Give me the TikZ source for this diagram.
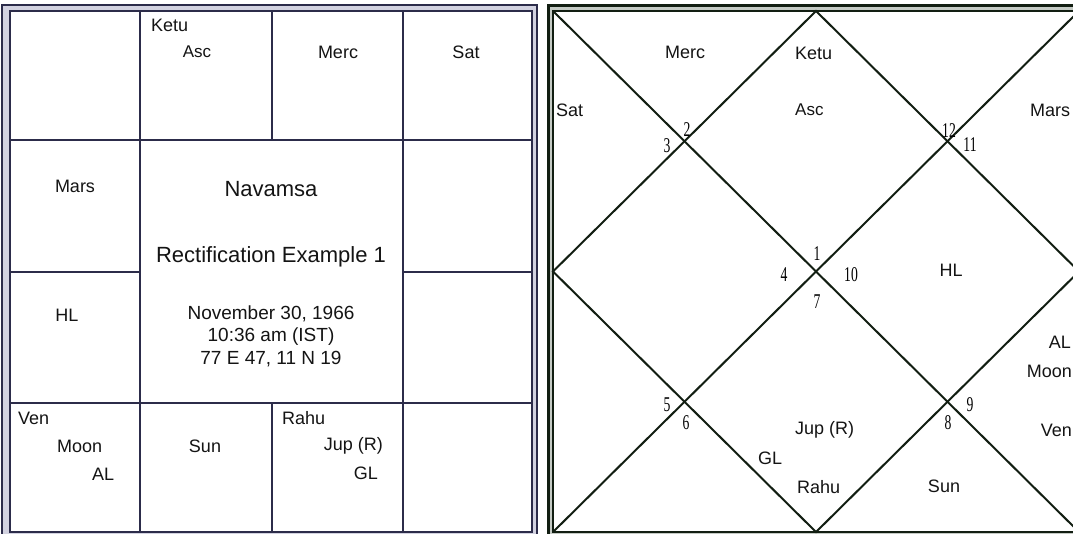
\documentclass[tikz,border=0pt]{standalone}
\usepackage{fontspec}
\setmainfont{Liberation Sans}
\newfontfamily\numfont[FakeStretch=0.65]{Liberation Serif}
\definecolor{navy}{HTML}{2C2C4A}
\definecolor{lav}{HTML}{D2D2E0}
\definecolor{dgreen}{HTML}{121E12}
\definecolor{lgray}{HTML}{C4CAC4}
\begin{document}
\begin{tikzpicture}[x=1pt,y=-1pt,
  lbl/.style={inner sep=0pt, text=black!92, font=\fontsize{18}{20}\selectfont},
  small/.style={inner sep=0pt, text=black!92, font=\fontsize{17}{19}\selectfont},
  title/.style={inner sep=0pt, text=black!92, font=\fontsize{22}{24}\selectfont},
  info/.style={inner sep=0pt, text=black!92, font=\fontsize{19}{22.5}\selectfont, align=center},
  num/.style={inner sep=0pt, text=black, font=\numfont\fontsize{21}{22}\selectfont},
  gridline/.style={draw=navy, line width=2pt},
  chartline/.style={draw=dgreen, line width=2pt}]
\useasboundingbox (0,0) rectangle (1073,534);
\fill[white] (0,0) rectangle (1073,534);
\clip (0,0) rectangle (1073,534);

% ---------- left chart (South Indian) ----------
\draw[navy, line width=2pt, fill=lav] (2,5) rectangle (537,536);
\draw[navy, line width=2pt, fill=white] (9.5,11) rectangle (532,532);
\coordinate (L1) at (140,11);  \coordinate (L1b) at (140,532);
\coordinate (L2) at (403,11);  \coordinate (L2b) at (403,532);
\coordinate (H1) at (9.5,140); \coordinate (H1b) at (532,140);
\coordinate (H3) at (9.5,403); \coordinate (H3b) at (532,403);
\draw[gridline] (L1) -- (L1b);
\draw[gridline] (L2) -- (L2b);
\draw[gridline] (H1) -- (H1b);
\draw[gridline] (H3) -- (H3b);
\draw[gridline] (272,11) -- (272,140);
\draw[gridline] (272,403) -- (272,532);
\draw[gridline] (9.5,272) -- (140,272);
\draw[gridline] (403,272) -- (532,272);

\node[lbl, anchor=west] (lketu) at (151,25) {Ketu};
\node[small] (lasc) at (197,52) {Asc};
\node[lbl] (lmerc) at (338,52) {Merc};
\node[lbl] (lsat) at (466,52) {Sat};
\node[lbl] (lmars) at (75,186) {Mars};
\node[title] (nav) at (271,189) {Navamsa};
\node[title] (rect) at (271,257) {Rectification Example 1};
\node[info] (date) at (271,336) {November 30, 1966\\10:36 am (IST)\\77 E 47, 11 N 19};
\node[lbl] (lhl) at (67,315) {HL};
\node[lbl, anchor=west] (lven) at (18,418) {Ven};
\node[lbl, anchor=west] (lmoon) at (57,446) {Moon};
\node[lbl, anchor=west] (lal) at (92,474) {AL};
\node[lbl] (lsun) at (205,446) {Sun};
\node[lbl, anchor=west] (lrahu) at (282,418) {Rahu};
\node[lbl, anchor=east] (ljup) at (383,446) {Jup (R)};
\node[lbl, anchor=east] (lgl) at (378,473) {GL};

% ---------- right chart (North Indian) ----------
\draw[dgreen, line width=2.5pt, fill=lgray] (548.5,5.5) rectangle (1090,536);
\draw[dgreen, line width=1.5pt, fill=white] (553,11) rectangle (1079,532);
\coordinate (TL) at (553,11);   \coordinate (TR) at (1079,11);
\coordinate (BL) at (553,532);  \coordinate (BR) at (1079,532);
\coordinate (TM) at (816,11);   \coordinate (BM) at (816,532);
\coordinate (LM) at (553,271.5); \coordinate (RM) at (1079,271.5);
\draw[chartline] (TL) -- (BR);
\draw[chartline] (BL) -- (TR);
\draw[chartline] (TM) -- (RM) -- (BM) -- (LM) -- cycle;

\node[lbl] (rmerc) at (685,52) {Merc};
\node[lbl, anchor=west] (rsat) at (556,110) {Sat};
\node[lbl, anchor=west] (rketu) at (795,53) {Ketu};
\node[small, anchor=west] (rasc) at (795,110) {Asc};
\node[lbl, anchor=west] (rmars) at (1030,110) {Mars};
\node[lbl] (rhl) at (951,270) {HL};
\node[lbl, anchor=east] (ral) at (1071,342) {AL};
\node[lbl, anchor=east] (rmoon) at (1072,371) {Moon};
\node[lbl, anchor=east] (rven) at (1072,430) {Ven};
\node[lbl, anchor=west] (rjup) at (795,430) {Jup (R)};
\node[lbl] (rgl) at (770,458) {GL};
\node[lbl, anchor=west] (rrahu) at (797,487) {Rahu};
\node[lbl] (rsun) at (944,486) {Sun};

\node[num] (n2) at (687,130) {2};
\node[num] (n3) at (667,146) {3};
\node[num] (n12) at (949,131) {12};
\node[num] (n11) at (970,145) {11};
\node[num] (n1) at (817,254) {1};
\node[num] (n4) at (784,275) {4};
\node[num] (n10) at (851,275) {10};
\node[num] (n7) at (817,302) {7};
\node[num] (n5) at (667,405) {5};
\node[num] (n6) at (686,423) {6};
\node[num] (n9) at (970,405) {9};
\node[num] (n8) at (948,423) {8};
\end{tikzpicture}
\end{document}
